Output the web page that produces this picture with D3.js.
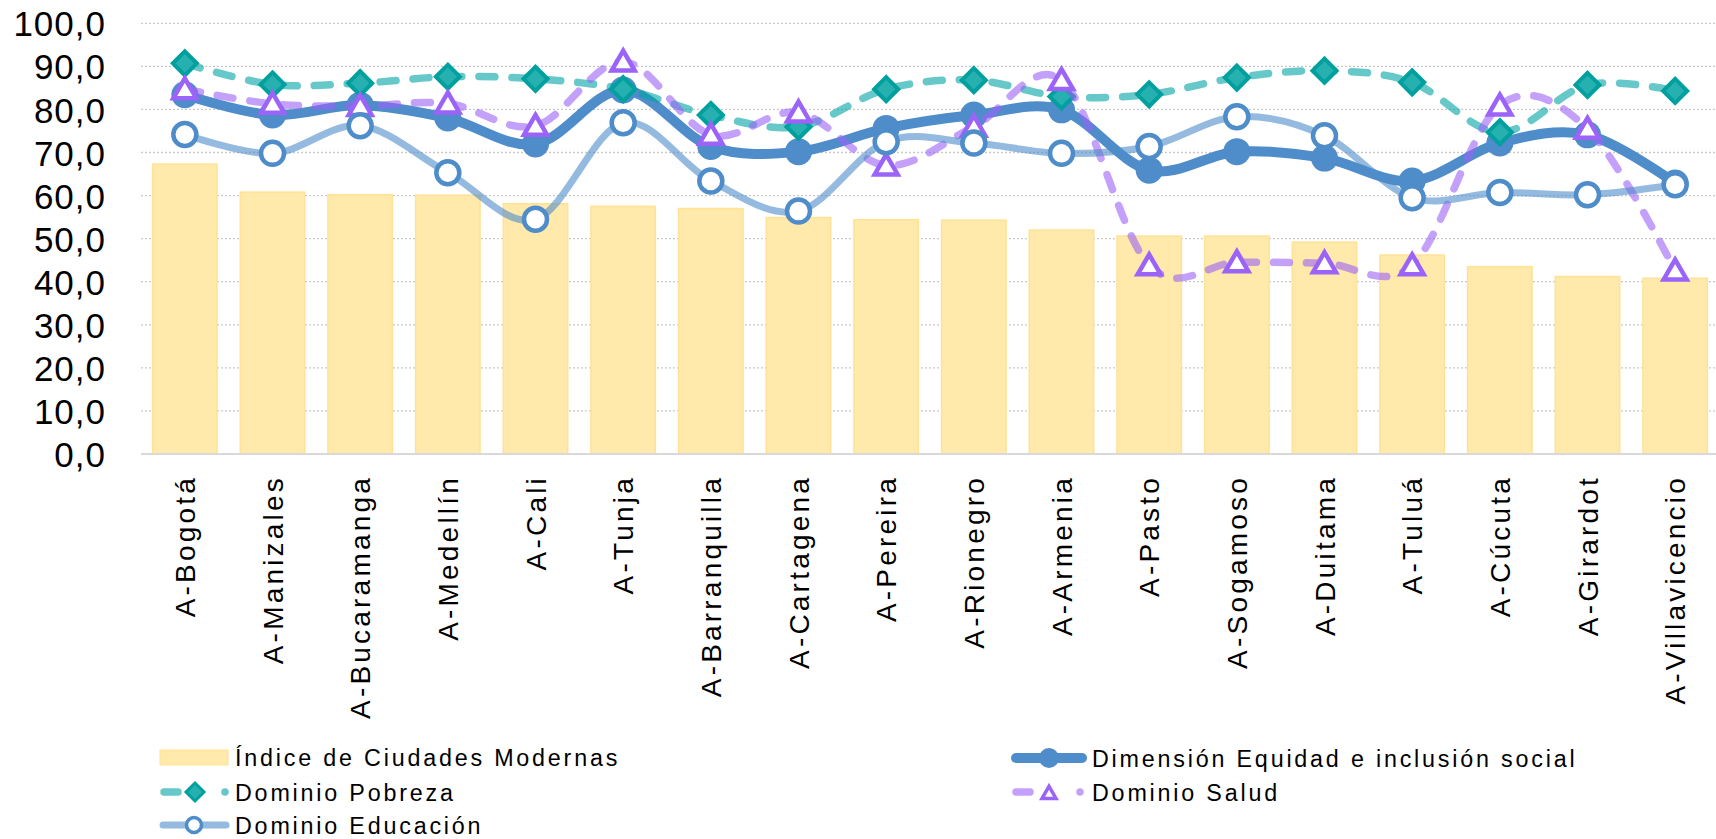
<!DOCTYPE html>
<html>
<head>
<meta charset="utf-8">
<script src="https://cdn.jsdelivr.net/npm/d3@7/dist/d3.min.js"></script>
<style>
  html, body { margin: 0; padding: 0; background: #fff; }
  svg { display: block; }
  text { font-family: "Liberation Sans", Arial, sans-serif; fill: #000; }
</style>
</head>
<body>
<svg id="chart" width="1716" height="839"></svg>
<script>
// Ciudades evaluadas
const cities = ["A-Bogotá","A-Manizales","A-Bucaramanga","A-Medellín","A-Cali","A-Tunja",
  "A-Barranquilla","A-Cartagena","A-Pereira","A-Rionegro","A-Armenia","A-Pasto",
  "A-Sogamoso","A-Duitama","A-Tuluá","A-Cúcuta","A-Girardot","A-Villavicencio"];

// Series (0–100)
const indice    = [67.3, 60.8, 60.2, 60.1, 58.1, 57.5, 57.0, 54.9, 54.4, 54.3, 52.0, 50.6, 50.6, 49.2, 46.2, 43.5, 41.2, 40.8];
const equidad   = [83.4, 78.7, 81.0, 78.0, 72.0, 84.5, 71.4, 70.2, 75.6, 78.7, 79.9, 65.9, 70.2, 68.7, 63.4, 72.2, 74.1, 62.9];
const pobreza   = [90.7, 85.8, 86.1, 87.6, 87.1, 84.7, 78.7, 76.0, 84.7, 86.8, 83.0, 83.5, 87.4, 89.0, 86.3, 74.7, 85.7, 84.3];
const salud     = [84.7, 81.3, 80.8, 81.4, 76.2, 91.1, 74.1, 79.3, 67.0, 76.0, 86.8, 43.8, 44.5, 44.3, 43.8, 80.9, 75.5, 42.6];
const educacion = [74.2, 69.8, 76.2, 65.3, 54.5, 76.9, 63.4, 56.4, 72.5, 72.2, 69.8, 71.4, 78.3, 73.9, 59.5, 60.7, 60.2, 62.5];

// Ticks del eje Y
const yTicks = [0, 10, 20, 30, 40, 50, 60, 70, 80, 90, 100];

// Nombres de la leyenda
const names = {
  indice: "Índice de Ciudades Modernas",
  equidad: "Dimensión Equidad e inclusión social",
  pobreza: "Dominio Pobreza",
  salud: "Dominio Salud",
  educacion: "Dominio Educación"
};

const svg = d3.select("#chart");
const fmt = d3.formatLocale({decimal: ",", thousands: ".", grouping: [3], currency: ["$", ""]}).format(".1f");

const x = d3.scaleBand().domain(cities).range([141, 1719]).paddingInner(0.265).paddingOuter(0.1325);
const y = d3.scaleLinear().domain([0, 100]).range([454, 23.3]);
const cx = c => x(c) + x.bandwidth() / 2;

// Cuadrícula punteada
svg.append("g").selectAll("line").data(yTicks.filter(t => t > 0)).join("line")
  .attr("x1", 141).attr("x2", 1716)
  .attr("y1", d => y(d)).attr("y2", d => y(d))
  .attr("stroke", "#c9c9c9").attr("stroke-width", 1.3).attr("stroke-dasharray", "2 2");

// Etiquetas del eje Y
const yAxis = d3.axisLeft(y).tickValues(yTicks).tickFormat(fmt).tickSize(0).tickPadding(0);
const gy = svg.append("g").attr("transform", "translate(106,0)").call(yAxis);
gy.select(".domain").remove();
gy.selectAll("text").attr("font-size", 35).attr("letter-spacing", 1)
  .attr("font-family", "Liberation Sans, Arial, sans-serif").attr("fill", "#000").attr("dy", "0.36em");

// Barras
svg.append("g").selectAll("rect").data(cities).join("rect")
  .attr("x", c => x(c)).attr("width", x.bandwidth())
  .attr("y", (c, i) => y(indice[i])).attr("height", (c, i) => y(0) - y(indice[i]))
  .attr("fill", "#ffe9ab").attr("stroke", "#ffe296").attr("stroke-width", 1.5);

// Eje X
svg.append("line").attr("x1", 141).attr("x2", 1716).attr("y1", y(0)).attr("y2", y(0))
  .attr("stroke", "#d9d9d9").attr("stroke-width", 2);

const xAxis = d3.axisBottom(x).tickSize(0).tickPadding(0);
const gx = svg.append("g").attr("transform", "translate(0,0)").call(xAxis);
gx.select(".domain").remove();
gx.selectAll(".tick").attr("transform", c => `translate(${cx(c)},475)`);
gx.selectAll(".tick text")
  .attr("transform", "rotate(-90)")
  .attr("x", 0).attr("y", 0).attr("dy", "0.36em")
  .attr("text-anchor", "end")
  .attr("font-size", 28).attr("letter-spacing", 3.2)
  .attr("font-family", "Liberation Sans, Arial, sans-serif").attr("fill", "#000");

// Líneas suavizadas
const curve = d3.curveCatmullRom.alpha(0);
const lineGen = vals => d3.line().x((d, i) => cx(cities[i])).y(d => y(d)).curve(curve)(vals);

const diamond = s => `M0,${-s}L${s},0L0,${s}L${-s},0Z`;
const triangle = s => `M0,${-s * 0.95}L${s},${s * 0.78}L${-s},${s * 0.78}Z`;

function series(vals, opt) {
  const g = svg.append("g");
  g.append("path").attr("d", lineGen(vals)).attr("fill", "none")
    .attr("stroke", opt.line).attr("stroke-opacity", opt.lineOpacity)
    .attr("stroke-width", opt.width).attr("stroke-linecap", "round").attr("stroke-linejoin", "round")
    .attr("stroke-dasharray", opt.dash || null);
  const m = g.selectAll(".m").data(vals).join("g")
    .attr("transform", (d, i) => `translate(${cx(cities[i])},${y(d)})`);
  opt.marker(m);
}

// Dimensión Equidad e inclusión social
series(equidad, {
  line: "#4e8cca", lineOpacity: 1, width: 10,
  marker: m => m.append("circle").attr("r", 13.5).attr("fill", "#4e8cca")
});
// Dominio Pobreza
series(pobreza, {
  line: "#00a3a3", lineOpacity: 0.6, width: 7.5, dash: "16 17",
  marker: m => m.append("path").attr("d", diamond(12)).attr("fill", "#26b0b0")
    .attr("stroke", "#00a09f").attr("stroke-width", 4).attr("stroke-linejoin", "miter")
});
// Dominio Salud
series(salud, {
  line: "#9b63f8", lineOpacity: 0.6, width: 7.5, dash: "16 17",
  marker: m => m.append("path").attr("d", triangle(11.5)).attr("fill", "#fff")
    .attr("stroke", "#9b63f8").attr("stroke-width", 4.5).attr("stroke-linejoin", "miter")
});
// Dominio Educación
series(educacion, {
  line: "#4e8cca", lineOpacity: 0.6, width: 7,
  marker: m => m.append("circle").attr("r", 11.5).attr("fill", "#fff")
    .attr("stroke", "#4e8cca").attr("stroke-width", 4.5)
});

// Leyenda
const leg = svg.append("g");
const legText = (tx, ty, t) => leg.append("text").attr("x", tx).attr("y", ty)
  .attr("font-size", 23.3).attr("letter-spacing", 2.8).text(t);

leg.append("rect").attr("x", 160).attr("y", 750).attr("width", 68).attr("height", 15)
  .attr("fill", "#ffe9ab").attr("stroke", "#ffe296");
legText(235, 766, names.indice);

// Pobreza
leg.append("line").attr("x1", 164).attr("x2", 178).attr("y1", 792).attr("y2", 792)
  .attr("stroke", "#00a3a3").attr("stroke-opacity", 0.6).attr("stroke-width", 7.5).attr("stroke-linecap", "round");
leg.append("circle").attr("cx", 225).attr("cy", 792).attr("r", 3.8).attr("fill", "#00a3a3").attr("fill-opacity", 0.6);
leg.append("path").attr("transform", "translate(195,792)").attr("d", diamond(9))
  .attr("fill", "#26b0b0").attr("stroke", "#00a09f").attr("stroke-width", 3);
legText(235, 801, names.pobreza);

// Educación
leg.append("line").attr("x1", 163).attr("x2", 226).attr("y1", 825).attr("y2", 825)
  .attr("stroke", "#4e8cca").attr("stroke-opacity", 0.6).attr("stroke-width", 7).attr("stroke-linecap", "round");
leg.append("circle").attr("cx", 194).attr("cy", 825).attr("r", 7.5).attr("fill", "#fff")
  .attr("stroke", "#4e8cca").attr("stroke-width", 3.5);
legText(235, 834, names.educacion);

// Dimensión
leg.append("line").attr("x1", 1016).attr("x2", 1082).attr("y1", 758).attr("y2", 758)
  .attr("stroke", "#4e8cca").attr("stroke-width", 10).attr("stroke-linecap", "round");
leg.append("circle").attr("cx", 1049).attr("cy", 758).attr("r", 10).attr("fill", "#4e8cca");
legText(1092, 767, names.equidad);

// Salud
leg.append("line").attr("x1", 1016).attr("x2", 1030).attr("y1", 792).attr("y2", 792)
  .attr("stroke", "#9b63f8").attr("stroke-opacity", 0.6).attr("stroke-width", 7.5).attr("stroke-linecap", "round");
leg.append("circle").attr("cx", 1080).attr("cy", 792).attr("r", 3.8).attr("fill", "#9b63f8").attr("fill-opacity", 0.6);
leg.append("path").attr("transform", "translate(1049,793)").attr("d", triangle(7))
  .attr("fill", "#fff").attr("stroke", "#9b63f8").attr("stroke-width", 3.5);
legText(1092, 801, names.salud);
</script>
</body>
</html>
